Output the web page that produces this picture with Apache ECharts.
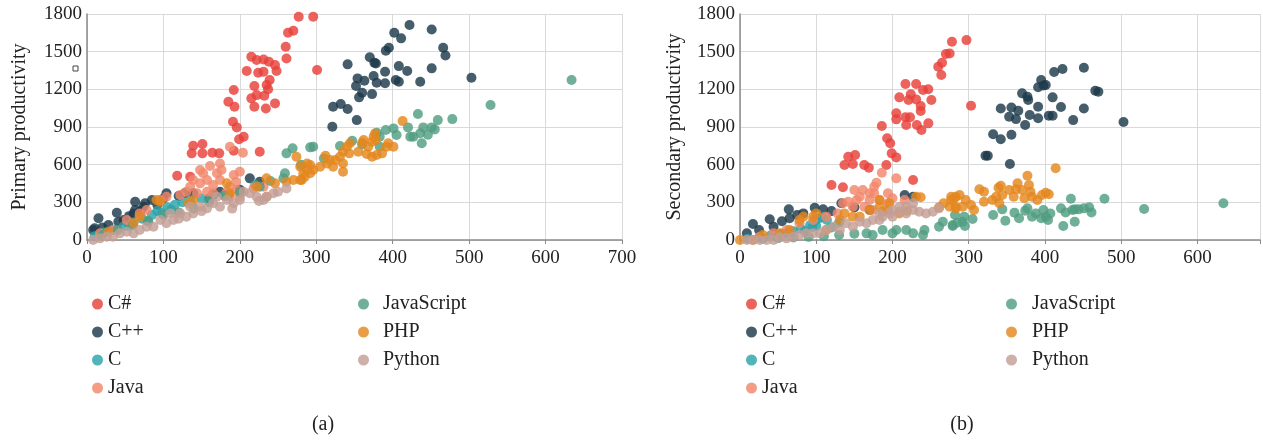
<!DOCTYPE html>
<html>
<head>
<meta charset="utf-8">
<script src="https://cdn.jsdelivr.net/npm/echarts@6/dist/echarts.min.js"></script>
<style>
html,body{margin:0;padding:0;background:#fff;}
#chart{width:1263px;height:441px;}
</style>
</head>
<body>
<div id="chart"></div>
<script>
// ---------- DATA ----------
const languages = ['C#', 'C++', 'C', 'Java', 'JavaScript', 'PHP', 'Python'];
const xTicks = [0, 100, 200, 300, 400, 500, 600, 700];
const yTicks = [0, 300, 600, 900, 1200, 1500, 1800];
const captions = ['(a)', '(b)'];
const yTitles = ['Primary productivity', 'Secondary productivity'];

// (a) Primary productivity  [x, y]
const primaryCSharp = [[277,1778],[296,1778],[270,1667],[263,1651],[260,1539],[261,1446],[301,1354],[215,1459],[222,1433],[231,1438],[238,1420],[246,1393],[209,1346],[224,1332],[231,1340],[248,1346],[239,1274],[235,1234],[237,1200],[192,1194],[219,1226],[215,1128],[222,1154],[232,1149],[193,1061],[219,1061],[234,1048],[246,1088],[185,1101],[191,942],[196,897],[199,802],[205,823],[192,711],[226,703],[139,751],[151,764],[137,690],[151,690],[164,695],[173,690],[118,512],[135,504]];
const primaryCpp = [[422,1712],[451,1677],[402,1651],[411,1606],[466,1531],[469,1470],[391,1507],[395,1531],[370,1455],[376,1412],[378,1406],[341,1399],[408,1385],[419,1346],[451,1367],[390,1340],[375,1306],[354,1287],[363,1268],[379,1252],[390,1248],[404,1274],[408,1261],[436,1261],[352,1226],[360,1173],[356,1136],[373,1162],[322,1061],[332,1083],[341,1043],[353,955],[321,902],[503,1292],[15,173],[39,217],[41,146],[61,212],[63,239],[63,305],[76,292],[85,318],[74,265],[104,372],[128,372],[139,372],[165,358],[174,385],[213,491],[226,464],[8,80],[10,93],[20,100],[28,120],[48,160],[55,190],[70,230],[92,280],[100,330],[120,350],[160,330],[185,360],[200,400]];
const primaryC = [[10,30],[22,60],[35,80],[48,110],[60,140],[72,170],[85,200],[92,230],[98,215],[105,260],[115,280],[125,300],[135,310],[150,330],[163,345],[180,360],[220,438],[80,150],[55,110],[110,240]];
const primaryJava = [[187,743],[204,695],[161,589],[174,610],[176,557],[170,531],[152,531],[148,557],[139,478],[148,451],[157,478],[174,478],[165,438],[192,518],[195,464],[187,424],[200,544],[135,424],[130,385],[144,372],[157,385],[165,372],[183,385],[187,345],[196,398],[200,345],[122,358],[104,345],[96,318],[78,239],[69,212],[52,159],[34,80],[17,53],[218,411],[231,424],[235,345]];
const primaryJavaScript = [[634,1274],[528,1075],[478,963],[459,955],[433,1003],[420,897],[440,897],[451,897],[455,881],[423,823],[427,823],[436,850],[446,838],[438,770],[405,836],[401,889],[391,876],[383,823],[379,855],[347,791],[331,748],[292,738],[296,743],[383,743],[261,690],[269,730],[259,531],[257,491],[226,424],[20,40],[40,80],[60,120],[80,150],[100,200],[120,220],[140,250],[160,300],[180,350],[200,380],[240,470],[360,760],[310,650],[280,600]];
const primaryPHP = [[413,947],[377,849],[375,823],[378,796],[373,783],[368,743],[362,796],[360,775],[394,770],[401,743],[392,743],[344,770],[340,743],[335,703],[343,690],[355,703],[366,685],[379,677],[386,690],[373,663],[331,663],[325,637],[318,637],[312,671],[335,610],[335,544],[322,584],[314,610],[305,584],[296,557],[288,610],[292,531],[285,504],[281,478],[274,663],[279,584],[283,531],[270,478],[261,464],[292,597],[279,478],[288,557],[246,451],[235,491],[222,424],[187,372],[183,451],[139,318],[133,292],[96,305],[91,318],[69,186],[61,133],[28,66]];
const primaryPython = [[250,385],[244,372],[235,345],[231,318],[222,345],[213,372],[205,385],[200,318],[192,292],[183,318],[174,265],[165,292],[157,252],[148,265],[139,212],[130,186],[122,212],[113,159],[104,133],[96,159],[87,106],[78,106],[69,80],[61,53],[52,66],[43,53],[34,26],[26,26],[17,13],[8,0],[170,345],[135,265],[109,212],[261,411],[225,310],[190,250],[150,230],[120,170]];

// (b) Secondary productivity  [x, y]
const secondaryCSharp = [[278,1579],[270,1481],[265,1412],[260,1380],[264,1314],[297,1592],[275,1486],[303,1069],[217,1242],[231,1242],[209,1136],[224,1160],[221,1115],[231,1120],[240,1194],[247,1200],[251,1115],[237,1067],[237,1027],[205,1009],[205,961],[217,977],[223,977],[218,916],[232,916],[238,876],[247,929],[186,908],[193,810],[197,770],[199,690],[205,658],[192,597],[137,597],[142,663],[151,677],[148,605],[163,597],[169,576],[120,438],[135,420],[227,478]];
const secondaryCpp = [[451,1372],[423,1362],[412,1338],[395,1274],[391,1216],[401,1234],[398,1230],[466,1189],[470,1181],[370,1168],[377,1141],[378,1115],[410,1136],[342,1048],[356,1056],[365,1029],[391,1061],[421,1059],[451,1048],[353,982],[362,963],[380,995],[391,969],[405,990],[410,990],[437,955],[374,916],[503,940],[332,842],[356,838],[342,802],[322,671],[325,671],[354,605],[17,127],[39,165],[44,106],[64,244],[65,173],[83,212],[98,257],[109,244],[133,292],[216,358],[227,345],[9,53],[25,80],[55,150],[75,200],[120,230],[150,260],[170,240]];
const secondaryC = [[10,10],[25,20],[40,35],[55,50],[70,70],[80,90],[92,120],[98,150],[103,170],[108,183],[114,160],[100,110],[85,70],[60,50],[120,100],[130,140],[95,104]];
const secondaryJava = [[186,536],[205,491],[179,456],[176,424],[170,372],[170,318],[176,372],[183,318],[194,372],[200,332],[194,292],[150,398],[157,345],[153,318],[142,305],[148,265],[161,398],[163,265],[174,239],[135,292],[128,212],[113,186],[96,159],[78,133],[61,80],[44,53],[26,26],[216,318]];
const secondaryJavaScript = [[634,292],[530,247],[478,329],[458,260],[461,220],[451,252],[444,244],[439,244],[436,239],[434,329],[421,252],[427,220],[439,146],[424,111],[407,212],[404,159],[401,186],[398,239],[395,173],[388,212],[383,186],[377,252],[374,233],[366,173],[360,218],[348,154],[344,244],[332,199],[305,167],[294,186],[292,146],[295,111],[279,111],[285,138],[282,199],[261,106],[266,146],[279,119],[218,80],[227,53],[240,40],[242,80],[205,80],[200,53],[187,80],[174,40],[166,53],[130,40],[110,30],[90,25],[70,20],[50,15],[30,10],[150,50]];
const secondaryPHP = [[414,571],[377,512],[379,438],[364,451],[342,432],[339,416],[362,404],[353,398],[370,398],[381,385],[314,404],[320,385],[401,377],[396,358],[405,364],[383,345],[373,332],[359,345],[344,358],[336,345],[331,318],[340,292],[390,318],[288,358],[281,332],[277,318],[296,318],[303,279],[307,239],[292,265],[283,265],[320,305],[277,345],[283,345],[275,265],[283,252],[267,292],[261,260],[237,340],[231,345],[219,233],[209,212],[196,292],[194,239],[187,225],[183,265],[183,318],[170,239],[157,186],[148,186],[137,212],[131,159],[113,80],[100,212],[96,186],[83,186],[78,159],[65,80],[52,53],[30,40],[17,0],[0,0]];
const secondaryPython = [[261,252],[253,225],[244,212],[235,225],[227,239],[218,212],[209,225],[200,186],[196,212],[187,186],[183,159],[174,159],[166,133],[157,146],[148,106],[139,133],[131,80],[122,106],[113,80],[105,53],[96,53],[87,53],[78,40],[70,26],[61,13],[52,21],[44,0],[35,0],[26,0],[17,0],[9,0],[209,265],[200,239],[183,212],[218,265],[227,292]];

// ---------- STYLE ----------
const colors = ['#e8413b', '#1d3b4a', '#2ba4a9', '#f1886b', '#519d81', '#e4871f', '#c39f96'];
const FONT = '"Liberation Serif", "DejaVu Serif", serif';
const primarySets = [primaryCSharp, primaryCpp, primaryC, primaryJava, primaryJavaScript, primaryPHP, primaryPython];
const secondarySets = [secondaryCSharp, secondaryCpp, secondaryC, secondaryJava, secondaryJavaScript, secondaryPHP, secondaryPython];

const chart = echarts.init(document.getElementById('chart'), null, {renderer: 'canvas'});

function xAxis(gridIndex, max) {
  return {
    type: 'value', gridIndex, min: 0, max, interval: 100,
    axisLine: {show: true, lineStyle: {color: '#8a8a8a', width: 1.5}},
    axisTick: {show: true, length: 4, lineStyle: {color: '#8a8a8a'}},
    splitLine: {show: true, lineStyle: {color: '#d9d9d9', width: 1}},
    axisLabel: {
      color: '#222', fontFamily: FONT, fontSize: 19, margin: 9,
      formatter: v => (xTicks.indexOf(v) >= 0 ? String(v) : '')
    }
  };
}
function yAxis(gridIndex, name, gap) {
  return {
    type: 'value', gridIndex, min: 0, max: 1800, interval: 300,
    name, nameLocation: 'middle', nameGap: gap, nameRotate: 90,
    nameTextStyle: {color: '#222', fontFamily: FONT, fontSize: 20},
    axisLine: {show: true, lineStyle: {color: '#8a8a8a', width: 1.5}},
    axisTick: {show: false},
    splitLine: {show: true, lineStyle: {color: '#d9d9d9', width: 1}},
    axisLabel: {
      color: '#222', fontFamily: FONT, fontSize: 19, margin: 5,
      formatter: v => (yTicks.indexOf(v) >= 0 ? String(v) : '')
    }
  };
}

const series = [];
[primarySets, secondarySets].forEach((sets, gi) => {
  sets.forEach((data, i) => {
    series.push({
      type: 'scatter', name: languages[i], xAxisIndex: gi, yAxisIndex: gi,
      data, symbol: 'circle', symbolSize: 10,
      itemStyle: {color: colors[i], opacity: 0.82},
      emphasis: {disabled: true}, silent: true, clip: true
    });
  });
});

function legend(left, top, names, pad) {
  return {
    orient: 'vertical', left, top, data: names.map(n => ({name: n, icon: 'circle'})),
    itemWidth: 11, itemHeight: 11, itemGap: 8,
    textStyle: {fontFamily: FONT, fontSize: 20, color: '#222', lineHeight: 20, padding: [0, 0, 0, pad]},
    selectedMode: false
  };
}
const col1 = languages.slice(0, 4), col2 = languages.slice(4);

chart.setOption({
  animation: false,
  color: colors,
  grid: [
    {left: 87, top: 14, width: 535, height: 226, containLabel: false},
    {left: 740, top: 14, width: 522, height: 226, containLabel: false}
  ],
  xAxis: [xAxis(0, 700), xAxis(1, 682)],
  yAxis: [yAxis(0, yTitles[0], 57), yAxis(1, yTitles[1], 55)],
  legend: [
    legend(87, 289, col1, 0),
    legend(353, 289, col2, 9),
    legend(741, 289, col1, 0),
    legend(1001, 289, col2, 10)
  ],
  graphic: [
    {type: 'text', x: 323, y: 425, style: {text: captions[0], font: '20px ' + FONT, fill: '#222', align: 'center', verticalAlign: 'middle'}},
    {type: 'text', x: 962, y: 425, style: {text: captions[1], font: '20px ' + FONT, fill: '#222', align: 'center', verticalAlign: 'middle'}},
    {type: 'rect', shape: {x: 73, y: 66, width: 5, height: 5}, style: {fill: 'none', stroke: '#444', lineWidth: 1}}
  ],
  series
});
</script>
</body>
</html>
